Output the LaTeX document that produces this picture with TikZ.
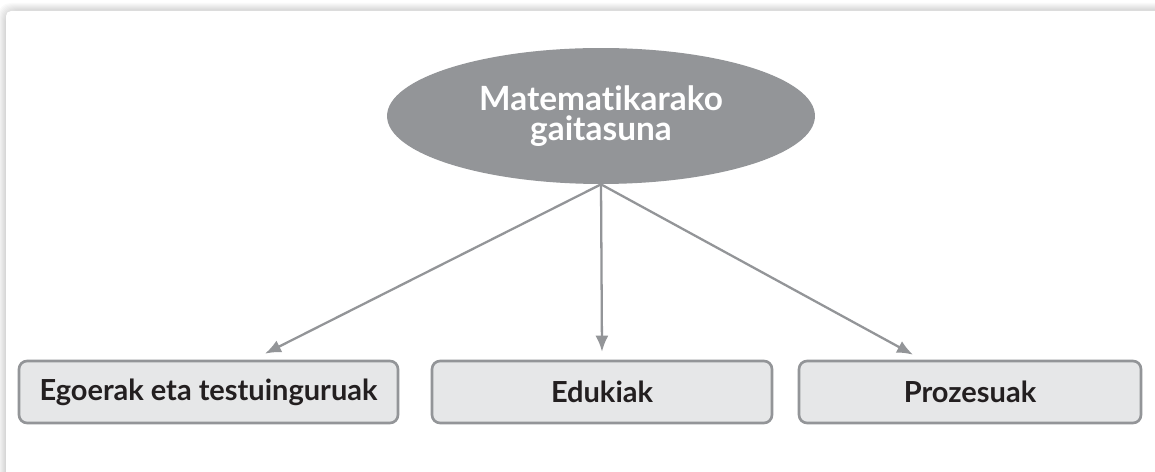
\documentclass[tikz,border=0pt]{standalone}
\usepackage{fontspec}
\setmainfont{Lato}[Ligatures=NoCommon]
\usetikzlibrary{arrows.meta,shapes.geometric}
\definecolor{greyline}{HTML}{939598}
\definecolor{boxfill}{HTML}{E6E7E8}
\definecolor{ink}{HTML}{231F20}
\tikzset{
  topic/.style={ellipse, fill=greyline, text=white, align=center, minimum width=8.56cm, minimum height=2.72cm, inner sep=0pt, font=\bfseries\fontsize{19}{17.5}\selectfont},
  part/.style={draw=greyline, line width=1.5pt, fill=boxfill, rounded corners=1.6mm, minimum height=1.24cm, text=ink, font=\bfseries\fontsize{16.5}{19}\selectfont},
  link/.style={draw=greyline, fill=greyline, line width=1.3pt, -{Latex[length=3.2mm,width=2.6mm]}}
}

\begin{document}
\begin{tikzpicture}[x=0.02cm, y=-0.02cm]
    % Page and panel
    \useasboundingbox (0,0) rectangle (1155,472);
    \fill[white] (0,0) rectangle (1155,472);
    \foreach \i in {1,...,8}
        \fill[black, opacity=0.02, rounded corners=2.5mm] (6-\i,11-\i) rectangle (1200,520);
    \fill[white, rounded corners=1mm] (6,11) rectangle (1200,520);

    % Main idea
    \node[topic] (gaitasuna) at (601,116) {Matematikarako\\gaitasuna};

    % Three parts
    \node[part, minimum width=7.58cm] (egoerak) at (208.5,392) {Egoerak eta testuinguruak};
    \node[part, minimum width=6.8cm] (edukiak) at (602,392) {Edukiak};
    \node[part, minimum width=6.84cm] (prozesuak) at (970,392) {Prozesuak};

    % Arrows
    \coordinate (t1) at ([xshift=1.13cm, yshift=0.12cm]egoerak.north);
    \coordinate (t2) at ([yshift=0.16cm]edukiak.north);
    \coordinate (t3) at ([xshift=-1.14cm, yshift=0.1cm]prozesuak.north);
    \draw[link] (gaitasuna.south) -- (t1);
    \draw[link] (gaitasuna.south) -- (t2);
    \draw[link] (gaitasuna.south) -- (t3);
\end{tikzpicture}
\end{document}
